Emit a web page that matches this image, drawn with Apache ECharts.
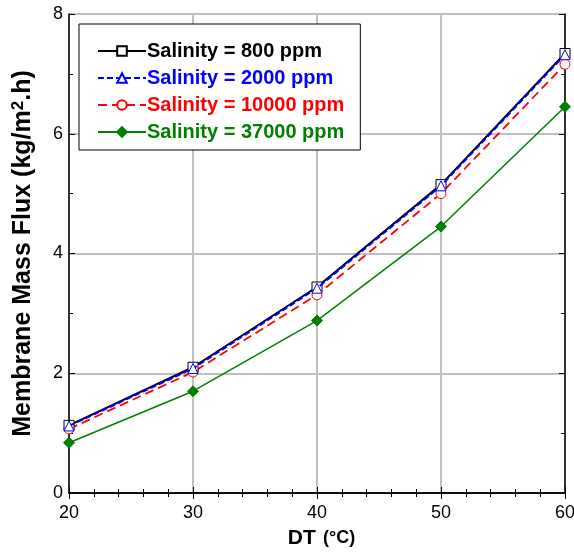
<!DOCTYPE html>
<html><head><meta charset="utf-8">
<script src="https://cdn.jsdelivr.net/npm/echarts@6/dist/echarts.min.js"></script>
<style>html,body{margin:0;padding:0;background:#fff}#c{width:574px;height:554px}</style>
</head><body><div id="c"></div>
<script>
var dt = [20, 30, 40, 50, 60];
var s800 = [1.13, 2.10, 3.44, 5.15, 7.34];
var s2000 = [1.12, 2.08, 3.42, 5.13, 7.32];
var s10000 = [1.07, 2.02, 3.31, 5.00, 7.16];
var s37000 = [0.84, 1.70, 2.88, 4.45, 6.45];
var names = ['Salinity = 800 ppm', 'Salinity = 2000 ppm', 'Salinity = 10000 ppm', 'Salinity = 37000 ppm'];
function pts(v){ return dt.map(function(x,i){return [x, v[i]];}); }
var chart = echarts.init(document.getElementById('c'), null, {renderer:'canvas'});
var F = 'Liberation Sans, Arial, sans-serif';
var axBase = {
  axisLine:{show:true, lineStyle:{color:'#000', width:1.5}},
  axisTick:{show:true, inside:true, length:6, lineStyle:{color:'#000', width:1}},
  minorTick:{show:true, length:4, lineStyle:{color:'#000', width:1}},
  splitLine:{show:false}
};
chart.setOption({
  animation:false,
  backgroundColor:'#fff',
  grid:{left:69, right:9, top:14, bottom:61, show:false, containLabel:false, outerBoundsMode:'none'},
  legend:{
    left:79, top:24, orient:'vertical', padding:[17,16,8,18], itemGap:7,
    borderColor:'#000', borderWidth:1, backgroundColor:'#fff',
    itemWidth:48, itemHeight:12,
    textStyle:{fontFamily:F, fontSize:20, lineHeight:20, fontWeight:'bold', padding:[0,0,0,-4]},
    data: names.map(function(n,i){return {name:n, textStyle:{color:['#000','#0000ff','#ff0000','#008000'][i]}};})
  },
  xAxis:[
    Object.assign({}, axBase, {type:'value', min:20, max:60, interval:10,
      minorTick:Object.assign({}, axBase.minorTick, {splitNumber:5}),
      axisLabel:{fontFamily:F, fontSize:18, color:'#000', margin:11},
      splitLine:{show:true, lineStyle:{color:'#c0c0c0', width:2}},
      name:'{a|DT} {b|(°C)}', nameLocation:'middle', nameGap:35,
      nameTextStyle:{rich:{
        a:{fontFamily:F, fontSize:21, fontWeight:'bold', color:'#000', padding:[0,0,0,9]},
        b:{fontFamily:F, fontSize:18, fontWeight:'bold', color:'#000', padding:[0,0,0,4]}}}
    }),
    Object.assign({}, axBase, {type:'value', position:'top', min:20, max:60, interval:10,
      minorTick:Object.assign({}, axBase.minorTick, {splitNumber:5}),
      axisLabel:{show:false}})
  ],
  yAxis:[
    Object.assign({}, axBase, {type:'value', min:0, max:8, interval:2,
      minorTick:Object.assign({}, axBase.minorTick, {splitNumber:2}),
      axisLabel:{fontFamily:F, fontSize:18, color:'#000', margin:6},
      splitLine:{show:true, lineStyle:{color:'#c0c0c0', width:2}},
      name:'{a|Membrane Mass Flux (kg/m}{s|2}{a|.h)}', nameLocation:'middle', nameGap:33,
      nameTextStyle:{rich:{
        a:{fontFamily:F, fontSize:25, fontWeight:'bold', color:'#000', lineHeight:26},
        s:{fontFamily:F, fontSize:17, fontWeight:'bold', color:'#000', lineHeight:26, verticalAlign:'top'}
      }}
    }),
    Object.assign({}, axBase, {type:'value', position:'right', min:0, max:8, interval:2,
      minorTick:Object.assign({}, axBase.minorTick, {splitNumber:2}),
      axisLabel:{show:false}})
  ],
  series:[
    {name:names[0], type:'line', data:pts(s800), symbol:'rect', symbolSize:10, z:4,
      lineStyle:{color:'#000', width:2}, itemStyle:{color:'#fff', borderColor:'#000', borderWidth:1}},
    {name:names[1], type:'line', data:pts(s2000), symbol:'triangle', symbolSize:10, z:5,
      lineStyle:{color:'#0000ff', width:2, type:[6,3]}, itemStyle:{color:'#fff', borderColor:'#0000ff', borderWidth:1}},
    {name:names[2], type:'line', data:pts(s10000), symbol:'circle', symbolSize:10, z:3,
      lineStyle:{color:'#ff0000', width:1.8, type:[9,5]}, itemStyle:{color:'#fff', borderColor:'#ff0000', borderWidth:1}},
    {name:names[3], type:'line', data:pts(s37000), symbol:'diamond', symbolSize:11, z:2,
      lineStyle:{color:'#008000', width:1.5}, itemStyle:{color:'#008000', borderColor:'#008000', borderWidth:1}}
  ]
});
</script></body></html>
